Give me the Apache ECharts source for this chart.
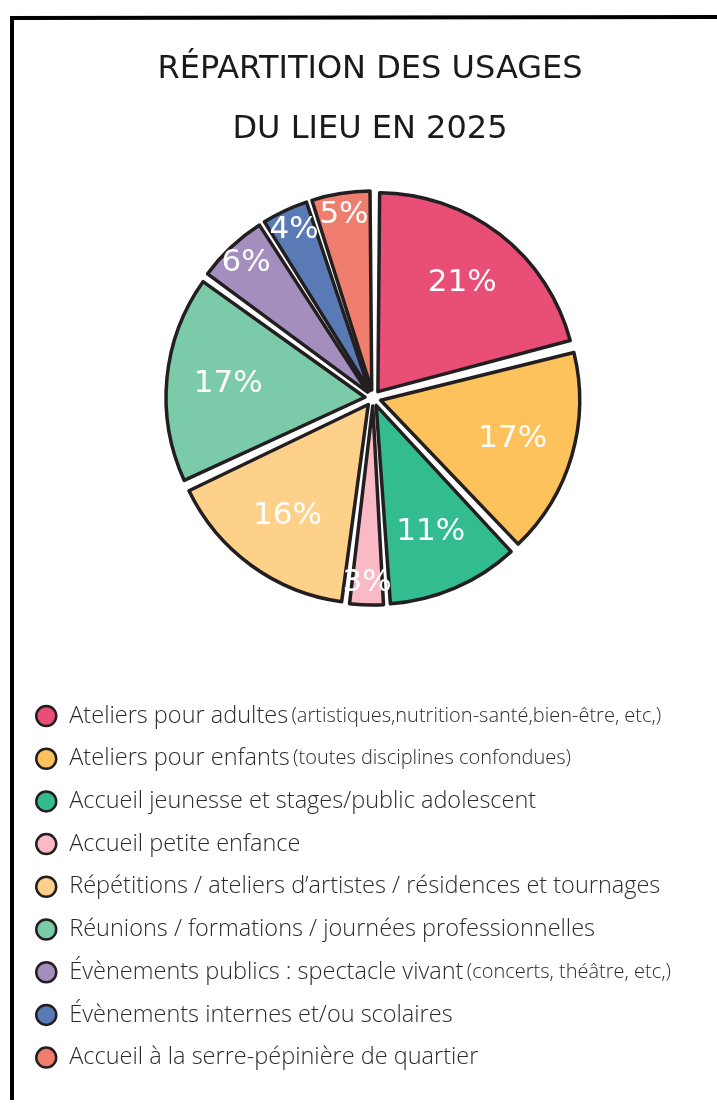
<!DOCTYPE html>
<html><head><meta charset="utf-8">
<script src="https://cdn.jsdelivr.net/npm/echarts@6/dist/echarts.min.js"></script>
<style>html,body{margin:0;padding:0;background:#fff}#c{width:717px;height:1104px}</style>
</head><body><div id="c"></div>
<script>
const titleLines = ['RÉPARTITION DES USAGES', 'DU LIEU EN 2025'];
const categories = [
  'Ateliers pour adultes',
  'Ateliers pour enfants',
  'Accueil jeunesse et stages/public adolescent',
  'Accueil petite enfance',
  'Répétitions / ateliers d’artistes / résidences et tournages',
  'Réunions / formations / journées professionnelles',
  'Évènements publics : spectacle vivant',
  'Évènements internes et/ou scolaires',
  'Accueil à la serre-pépinière de quartier'
];
const details = [
  '(artistiques,nutrition-santé,bien-être, etc,)',
  '(toutes disciplines confondues)',
  '', '', '', '',
  '(concerts, théâtre, etc,)',
  '', ''
];
const values = [21, 17, 11, 3, 16, 17, 6, 4, 5];
const colors = ['#E94E77', '#FDC25C', '#33BC8F', '#F9BAC6', '#FDD18A', '#7BCAAA', '#A38EBE', '#5A7AB6', '#F07E6E'];

const chart = echarts.init(document.getElementById('c'), null, {renderer: 'canvas'});
const data = categories.map((n, i) => ({name: n, value: values[i], selected: true, itemStyle: {color: colors[i]}}));
const detailOf = {};
categories.forEach((n, i) => detailOf[n] = details[i]);
const center = [373, 398];
const labelFont = {color: '#fff', fontFamily: 'DejaVu Sans', fontSize: 31};
function overlay(radius, test) {
  return {
    type: 'pie', center: center, radius: radius, silent: true, z: 5,
    startAngle: 90,
    data: categories.map((n, i) => ({name: n, value: values[i], itemStyle: {color: 'rgba(0,0,0,0)', borderWidth: 0}})),
    label: Object.assign({show: true, position: 'inside', formatter: p => test(p.value) ? p.value + '%' : ''}, labelFont),
    labelLine: {show: false},
    emphasis: {disabled: true}, legendHoverLink: false, tooltip: {show: false}
  };
}
const titleStyle = {fontFamily: 'DejaVu Sans', fontSize: 32, fontWeight: 'normal', fill: '#1a1a1a', textAlign: 'center', textVerticalAlign: 'middle'};
chart.setOption({
  animation: false,
  legend: {
    orient: 'vertical', left: 30, top: 699,
    icon: 'circle', itemWidth: 20, itemHeight: 20, itemGap: 18.7,
    itemStyle: {borderColor: '#231f20', borderWidth: 2.5},
    selectedMode: false,
    data: categories,
    formatter: n => detailOf[n] ? '{a|' + n + '} {b|' + detailOf[n] + '}' : '{a|' + n + '}',
    textStyle: {
      padding: [0, 0, 0, 8],
      lineHeight: 20,
      rich: {
        a: {fontFamily: 'Open Sans', fontSize: 23.5, lineHeight: 20, color: '#2b2b2b', fontWeight: 300},
        b: {fontFamily: 'Open Sans', fontSize: 20, lineHeight: 20, color: '#2b2b2b', fontWeight: 300}
      }
    }
  },
  graphic: [
    {
      type: 'polyline', silent: true,
      shape: {points: [[12, 1100], [12, 18], [717, 17]]},
      style: {stroke: '#000', lineWidth: 4, fill: null}
    },
    {type: 'text', silent: true, x: 370, y: 70, style: Object.assign({text: titleLines[0]}, titleStyle)},
    {type: 'text', silent: true, x: 370, y: 130, style: Object.assign({text: titleLines[1]}, titleStyle)}
  ],
  series: [
    {
      type: 'pie', center: center, radius: 199, startAngle: 90,
      padAngle: 1,
      selectedMode: 'multiple', selectedOffset: 8,
      data: data,
      itemStyle: {borderColor: '#231f20', borderWidth: 3.5},
      select: {itemStyle: {borderColor: '#231f20', borderWidth: 3.5}},
      label: {show: false}, labelLine: {show: false},
      emphasis: {disabled: true}
    },
    overlay([0, 285], v => v >= 10),
    overlay([0, 365], v => v < 10)
  ]
});
</script></body></html>
